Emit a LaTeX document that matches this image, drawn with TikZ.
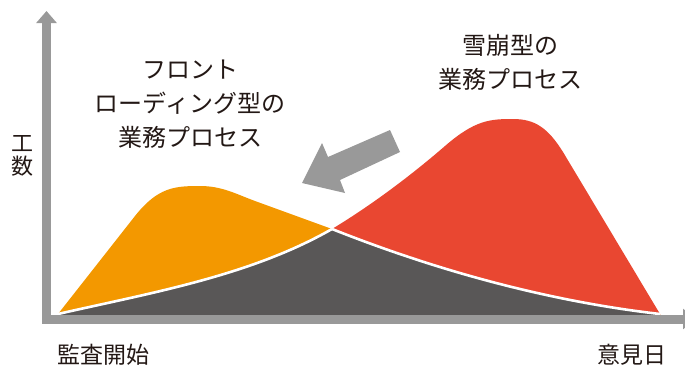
\documentclass[tikz,border=0pt]{standalone}
\usepackage{fontspec}
\newfontfamily\jp{Noto Sans CJK JP}
\usetikzlibrary{arrows.meta}
\definecolor{orangec}{HTML}{F39800}
\definecolor{redc}{HTML}{E94731}
\definecolor{darkc}{HTML}{595757}
\definecolor{axisc}{HTML}{999999}
\definecolor{textc}{HTML}{231815}
\tikzset{
  axisline/.style={draw=axisc, line width=9pt, -{Triangle[width=20pt,length=12pt]}},
  label/.style={text=textc, inner sep=0pt, align=center, font={\jp\fontsize{24}{34}\selectfont}},
  smalllabel/.style={text=textc, inner sep=0pt, align=center, font={\jp\fontsize{22}{23}\selectfont}},
  sep/.style={draw=white, line width=2.6pt}
}
\def\orangepath{(58,314) -- (135,216) .. controls (158,187) and (175,186) .. (200,186)
  .. controls (222,186) and (236,194) .. (255,201) -- (332,229)
  .. controls (400,256) and (520,298) .. (660,314)}
\def\redpath{(58,314) .. controls (150,293) and (250,276) .. (332,229)
  .. controls (375,203) and (415,172) .. (445,146)
  .. controls (475,120) and (490,119) .. (513,119)
  .. controls (535,119) and (548,128) .. (563,152) -- (660,314)}
\begin{document}
\begin{tikzpicture}[x=1pt,y=-1pt]
\useasboundingbox (0,0) rectangle (685,367);
% areas
\fill[orangec] \orangepath -- (660,316) -- (58,316) -- cycle;
\fill[redc] \redpath -- (660,316) -- (58,316) -- cycle;
\begin{scope}
  \clip \orangepath -- (660,316) -- (58,316) -- cycle;
  \fill[darkc] \redpath -- (660,316) -- (58,316) -- cycle;
\end{scope}
% white separators
\draw[sep] (58,314) .. controls (150,293) and (250,276) .. (332,229);
\draw[sep] (332,229) .. controls (400,256) and (520,298) .. (660,314);
% axes
\coordinate (ybot) at (46.5,323);
\coordinate (ytop) at (46.5,11);
\coordinate (xleft) at (42,319);
\coordinate (xright) at (695,319);
\draw[axisline] (ybot) -- (ytop);
\draw[axisline] (xleft) -- (xright);
% block arrow
\fill[axisc] (390,130) -- (400,152) -- (340,180) -- (345,193) -- (302,183) -- (322,143) -- (328,157) -- cycle;
% labels
\node[label] (front) at (190,104) {フロント\\ローディング型の\\業務プロセス};
\node[label] (nadare) at (510,62) {雪崩型の\\業務プロセス};
\node[smalllabel] (kosu) at (23,156) {工\\数};
\node[label, font={\jp\fontsize{23}{28}\selectfont}] (start) at (103,355) {監査開始};
\node[label, font={\jp\fontsize{23}{28}\selectfont}] (end) at (632,355) {意見日};
\end{tikzpicture}
\end{document}
